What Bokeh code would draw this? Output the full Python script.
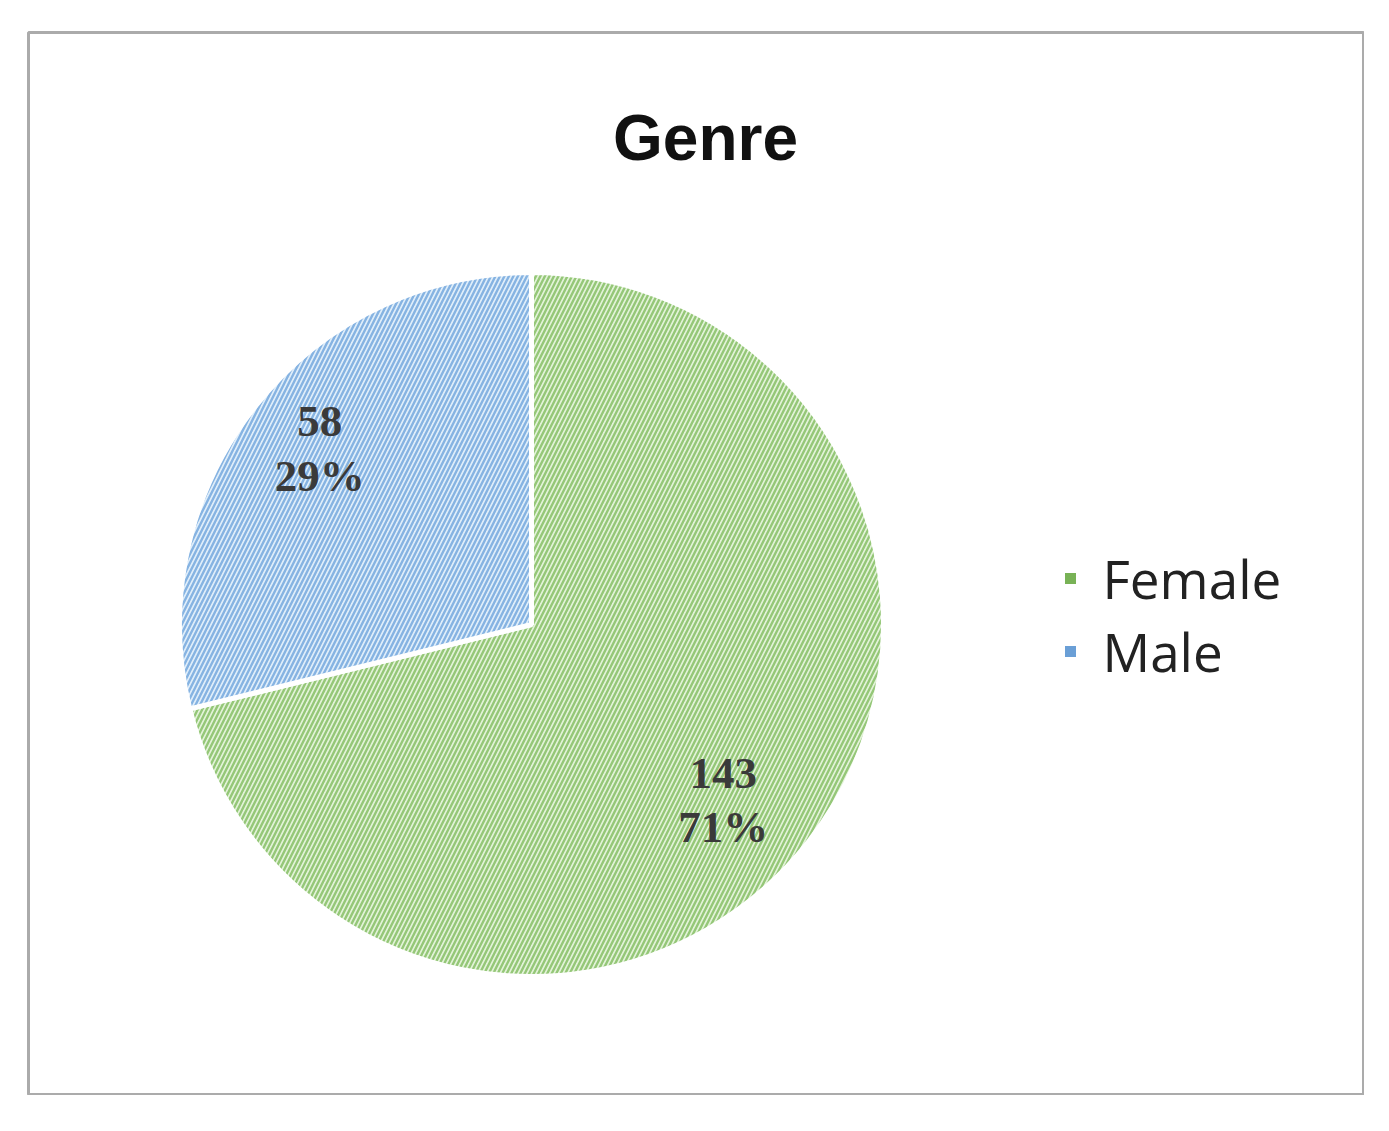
import numpy as np
from bokeh.plotting import figure
from bokeh.models import Range1d, ColumnDataSource
from bokeh.core.properties import value
from bokeh.embed import file_html
from bokeh.resources import INLINE

# ---- data ----
categories = ["Female", "Male"]
counts = [143, 58]
percents = ["71%", "29%"]
fill_colors = ["#e3f3d9", "#e0eefa"]
hatch_colors = ["#95c778", "#86b3e2"]
legend_colors = ["#78b256", "#6a9fd6"]
title_text = "Genre"

# ---- geometry (1 data unit = 1 px; y negative downward) ----
cx, cy, r = 531, -624, 352
total = sum(counts)
fracs = np.array(counts) / total
# start at 12 o'clock; Female clockwise, Male fills the rest
ends = np.pi / 2 - np.concatenate([[0], np.cumsum(fracs)[:-1]]) * 2 * np.pi
starts = ends - fracs * 2 * np.pi
mids = (starts + ends) / 2 - np.deg2rad(3)

src = ColumnDataSource(dict(
    cat=categories, start=starts, end=ends,
    fill=fill_colors, hatch=hatch_colors,
))

p = figure(
    output_backend="svg", toolbar_location=None,
    frame_width=1336, frame_height=1063,
    min_border_left=28, min_border_top=32, min_border_right=0, min_border_bottom=0,
    x_range=Range1d(28, 1364), y_range=Range1d(-1095, -32),
)
p.axis.visible = False
p.grid.visible = False
p.outline_line_color = "#ababab"
p.outline_line_width = 3
p.background_fill_color = "white"
p.border_fill_color = "white"

p.wedge(x=cx, y=cy, radius=r, start_angle="start", end_angle="end",
        fill_color="fill", line_color="white", line_width=5,
        hatch_pattern="/", hatch_color="hatch", hatch_scale=9, hatch_weight=2.4,
        source=src)

# data labels
lab_r = 0.76 * r
lx = cx + lab_r * np.cos(mids) - 10
ly = cy + lab_r * np.sin(mids)
p.text(x=lx, y=ly + 27, text=[str(c) for c in counts],
       text_font=value("Liberation Serif"), text_font_style="bold",
       text_font_size="45px", text_color="#3a3a3a",
       text_align="center", text_baseline="middle")
p.text(x=lx, y=ly - 27, text=percents,
       text_font=value("Liberation Serif"), text_font_style="bold",
       text_font_size="45px", text_color="#3a3a3a",
       text_align="center", text_baseline="middle")

# title
p.text(x=[705], y=[-137], text=[title_text],
       text_font=value("Liberation Sans"), text_font_style="bold",
       text_font_size="64px", text_color="#111111",
       text_align="center", text_baseline="middle")

# legend
leg_y = [-578, -651]
p.rect(x=[1070, 1070], y=leg_y, width=11, height=11,
       fill_color=legend_colors, line_color=None)
p.text(x=[1102, 1102], y=leg_y, text=categories,
       text_font=value("Open Sans"), text_font_size="53px", text_color="#222222",
       text_align="left", text_baseline="middle")

open("out.html", "w").write(file_html(p, INLINE))
